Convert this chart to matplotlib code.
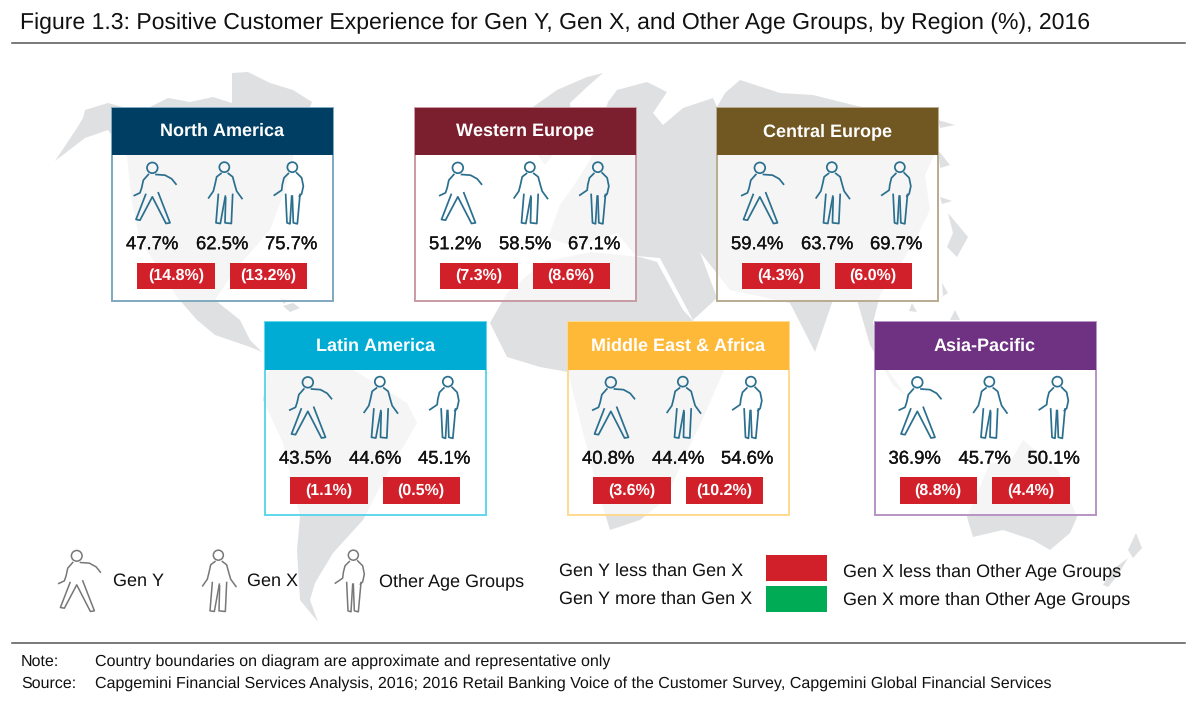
import matplotlib
matplotlib.use('Agg')
import matplotlib.pyplot as plt
import matplotlib.patheffects as pe
from matplotlib.patches import Rectangle, Circle

plt.rcParams['font.family'] = ['Liberation Sans', 'DejaVu Sans']
plt.rcParams['text.hinting'] = 'no_hinting'
plt.rcParams['text.hinting_factor'] = 1

# Values
regions = ['North America', 'Western Europe', 'Central Europe',
           'Latin America', 'Middle East & Africa', 'Asia-Pacific']
gen_y = [47.7, 51.2, 59.4, 43.5, 40.8, 36.9]
gen_x = [62.5, 58.5, 63.7, 44.6, 44.4, 45.7]
other = [75.7, 67.1, 69.7, 45.1, 54.6, 50.1]
gap_y_x = [14.8, 7.3, 4.3, 1.1, 3.6, 8.8]
gap_x_other = [13.2, 8.6, 6.0, 0.5, 10.2, 4.4]

header_colors = ['#003f63', '#7b1f2e', '#715722', '#00acd3', '#ffb938', '#6f3282']
border_colors = ['#7fa8bf', '#c99aa3', '#b8ab90', '#5fd6ec', '#ffd98f', '#b893c4']
card_left = [112, 415, 717, 265, 568, 874.5]
card_top = [107.5, 107.5, 107.5, 322, 322, 322]
figure_shift = [0, 2.5, 2.5, 2.5, 2.5, 2.5]

RED = '#d2202a'
GREEN = '#00ab55'
MAP_GRAY = '#dfe0e2'
INK = '#111111'

# Rough outlines of the background world map, in picture pixels
land = [
    # North America
    [(55, 161), (77, 128), (83, 118), (85, 110), (108, 103), (140, 112), (168, 98),
     (190, 102), (213, 97), (232, 103), (232, 73), (248, 72), (270, 83), (293, 90),
     (312, 102), (310, 107), (295, 150), (285, 190), (270, 230), (235, 270),
     (215, 300), (240, 320), (250, 340), (262, 352), (250, 347), (215, 335),
     (197, 320), (177, 297), (140, 240), (132, 203), (127, 157), (108, 130), (85, 138)],
    [(283, 306), (293, 303), (300, 308), (290, 312)],
    [(280, 298), (288, 300), (284, 304)],
    # South America
    [(283, 360), (267, 373), (263, 400), (283, 443), (300, 517), (297, 550), (300, 600),
     (318, 622), (310, 600), (315, 583), (333, 553), (363, 520), (380, 487), (417, 423),
     (407, 403), (375, 383), (340, 362)],
    # Greenland
    [(533, 107), (557, 90), (587, 77), (603, 73), (587, 87), (570, 103), (572, 130),
     (545, 165), (520, 130)],
    # Europe and Asia
    [(608, 102), (617, 90), (647, 82), (667, 92), (653, 113), (663, 125), (683, 108),
     (713, 98), (717, 107), (725, 93), (740, 80), (780, 93), (813, 95), (853, 105),
     (937, 123), (938, 147), (925, 175), (930, 210), (915, 240), (900, 265), (880, 295),
     (873, 323), (888, 370), (907, 397), (893, 385), (870, 345), (857, 300), (833, 300),
     (815, 352), (790, 303), (730, 290), (700, 252), (717, 298), (693, 320), (660, 258),
     (636, 256), (617, 233), (577, 247), (548, 238), (560, 205), (573, 187), (590, 160)],
    # Africa
    [(543, 262), (590, 252), (640, 257), (657, 262), (683, 310), (697, 325), (725, 368),
     (700, 425), (690, 445), (665, 500), (640, 520), (610, 530), (597, 487), (583, 433),
     (568, 372), (540, 367), (507, 357), (490, 323), (507, 293)],
    # Australia
    [(967, 517), (973, 537), (1003, 530), (1033, 540), (1050, 550), (1070, 533),
     (1077, 517), (1058, 470), (1023, 440), (1010, 462), (990, 463)],
    # Japan, Pacific islands, New Zealand
    [(938, 120), (955, 125), (940, 128)],
    [(938, 150), (950, 165), (940, 168)],
    [(940, 197), (952, 201), (942, 204)],
    [(948, 213), (968, 237), (957, 257), (947, 247), (953, 233)],
    [(942, 283), (948, 293), (943, 296)],
    [(912, 303), (917, 312), (909, 311)],
    [(955, 310), (960, 320), (950, 320)],
    [(1136, 533), (1142, 548), (1133, 558), (1128, 550)],
    [(1128, 558), (1118, 575), (1108, 587), (1103, 585), (1112, 570)],
]

# Person outlines, in pixels x 3 relative to the card corner
person_y = dict(head=(337, 325, 16), lines=[
    [(348, 345), (375, 347), (395, 358), (408, 374)],
    [(325, 345), (310, 362), (305, 385), (300, 400), (283, 408)],
    [(317, 405), (288, 480), (300, 482), (337, 412), (378, 492), (390, 490), (355, 400)],
])
person_x = dict(head=(553, 323, 15), lines=[
    [(543, 342), (530, 352), (525, 375), (520, 395), (506, 415)],
    [(565, 342), (578, 352), (585, 378), (590, 395), (606, 417)],
    [(535, 405), (528, 490), (541, 492), (556, 410)],
    [(557, 415), (555, 490), (574, 492), (578, 405)],
])
person_other = dict(head=(757, 323, 15), lines=[
    [(745, 342), (732, 355), (727, 375), (725, 392), (703, 407)],
    [(770, 340), (785, 355), (790, 380), (785, 403), (778, 410)],
    [(737, 405), (741, 490), (750, 493), (755, 410)],
    [(757, 410), (760, 490), (772, 493), (780, 405)],
])


def draw_person(ax, shape, x0, y0, color, lw):
    hx, hy, hr = shape['head']
    ax.add_patch(Circle((x0 + hx / 3 - 72, y0 + hy / 3 - 48), hr / 3, fill=False,
                        ec=color, lw=lw, zorder=5))
    for line in shape['lines']:
        xs = [x0 + p[0] / 3 - 72 for p in line]
        ys = [y0 + p[1] / 3 - 48 for p in line]
        ax.plot(xs, ys, color=color, lw=lw, solid_joinstyle='round', zorder=5)


fig = plt.figure(figsize=(12, 7.14), dpi=100)
ax = fig.add_axes([0, 0, 1, 1])
ax.set_xlim(0, 1200)
ax.set_ylim(714, 0)
ax.axis('off')

for poly in land:
    ax.fill([p[0] for p in poly], [p[1] for p in poly], color=MAP_GRAY, lw=0, zorder=1)

ax.text(20, 23, 'Figure 1.3: Positive Customer Experience for Gen Y, Gen X, and Other Age Groups, by Region (%), 2016',
        fontsize=16.8, color=INK, va='center', ha='left')
ax.plot([12, 1185], [43, 43], color='#555555', lw=1.1)

# slight stroke so the figures read as heavy as in the original
heavier = [pe.withStroke(linewidth=0.2, foreground=INK)]

for i, name in enumerate(regions):
    x, y = card_left[i], card_top[i]
    ax.add_patch(Rectangle((x, y), 221, 193, fc='white', ec='none', alpha=0.7, zorder=2))
    ax.add_patch(Rectangle((x, y), 221, 193, fill=False, ec=border_colors[i], lw=1.4, zorder=3))
    ax.add_patch(Rectangle((x, y), 221, 47.5, fc=header_colors[i], ec='none', zorder=4))
    ax.text(x + 110.5, y + 24, name, color='white', fontsize=12.7, fontweight='bold',
            ha='center', va='center', zorder=6)

    for shape in (person_y, person_x, person_other):
        draw_person(ax, shape, x + figure_shift[i], y, '#2b6f8f', 1.25)

    for dx, val in zip((39.5, 109.5, 178.5), (gen_y[i], gen_x[i], other[i])):
        ax.text(x + dx, y + 137, f'{val:.1f}%', color=INK, fontsize=13.3,
                ha='center', va='center', zorder=6, path_effects=heavier)

    for dx, val in zip((25, 117.5), (gap_y_x[i], gap_x_other[i])):
        ax.add_patch(Rectangle((x + dx, y + 155), 77.5, 26.5, fc=RED, ec='none', zorder=5))
        ax.text(x + dx + 38.75, y + 168.5, f'({val:.1f}%)', color='white', fontsize=11.2,
                fontweight='bold', ha='center', va='center', zorder=6)

# Legend
draw_person(ax, person_y, 36.4, 495.5, '#777777', 1.1)
draw_person(ax, person_x, 106, 495.5, '#777777', 1.1)
draw_person(ax, person_other, 173, 495.5, '#777777', 1.1)
for lx, label in zip((113, 247, 379), ('Gen Y', 'Gen X', 'Other Age Groups')):
    ax.text(lx, 581.5, label, color=INK, fontsize=13, va='center', ha='left', zorder=6)

ax.text(559, 576, 'Gen Y less than Gen X', color=INK, fontsize=13, va='baseline', zorder=6)
ax.text(559, 604, 'Gen Y more than Gen X', color=INK, fontsize=13, va='baseline', zorder=6)
ax.add_patch(Rectangle((766, 555), 61, 26, fc=RED, ec='none', zorder=5))
ax.add_patch(Rectangle((766, 586), 61, 26, fc=GREEN, ec='none', zorder=5))
ax.text(843, 576, 'Gen X less than Other Age Groups', color=INK, fontsize=13, va='baseline', zorder=6)
ax.text(843, 604, 'Gen X more than Other Age Groups', color=INK, fontsize=13, va='baseline', zorder=6)

# Footer
ax.plot([12, 1185], [643, 643], color='#555555', lw=1.1)
ax.text(21, 666, 'Note:', color=INK, fontsize=11.5, va='baseline')
ax.text(95, 666, 'Country boundaries on diagram are approximate and representative only',
        color=INK, fontsize=11.5, va='baseline')
ax.text(21, 688, 'Source:', color=INK, fontsize=11.5, va='baseline')
ax.text(95, 688, 'Capgemini Financial Services Analysis, 2016; 2016 Retail Banking Voice of the Customer Survey, Capgemini Global Financial Services',
        color=INK, fontsize=11.5, va='baseline')

fig.savefig('out.png', dpi=100)
